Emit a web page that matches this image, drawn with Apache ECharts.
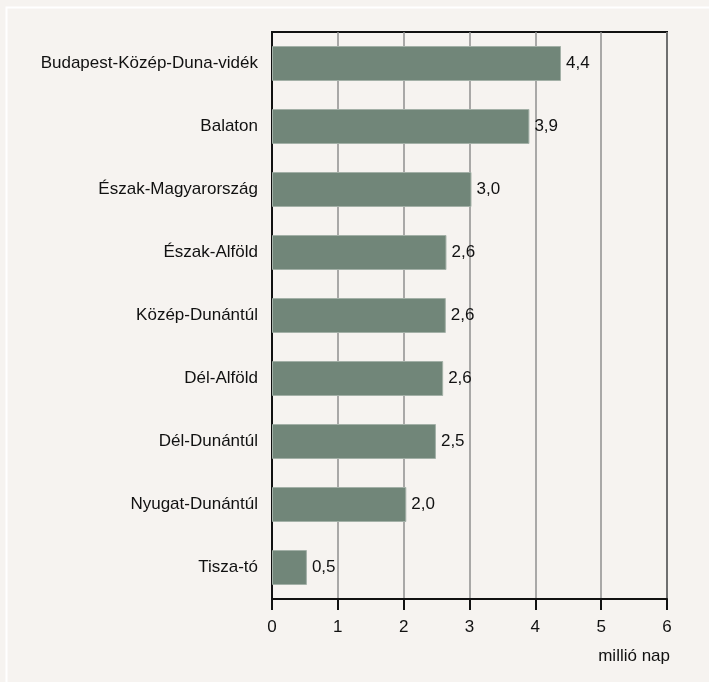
<!DOCTYPE html>
<html>
<head>
<meta charset="utf-8">
<script src="https://cdn.jsdelivr.net/npm/echarts@6/dist/echarts.min.js"></script>
<style>
html,body{margin:0;padding:0;background:#f6f3f0;}
#chart{width:709px;height:682px;}
</style>
</head>
<body>
<div id="chart"></div>
<script>
const categories = ['Budapest-Közép-Duna-vidék','Balaton','Észak-Magyarország','Észak-Alföld','Közép-Dunántúl','Dél-Alföld','Dél-Dunántúl','Nyugat-Dunántúl','Tisza-tó'];
const values = [4.39, 3.91, 3.03, 2.65, 2.64, 2.60, 2.49, 2.04, 0.53];
const labels = ['4,4','3,9','3,0','2,6','2,6','2,6','2,5','2,0','0,5'];
const xTicks = [0,1,2,3,4,5,6];
const unitName = 'millió nap';

const FONT = "'Liberation Sans Narrow','Arial Narrow','Liberation Sans',Arial,sans-serif";
const FS = 17;
const chart = echarts.init(document.getElementById('chart'));
chart.setOption({
  backgroundColor: '#f6f3f0',
  animation: false,
  graphic: [{
    type: 'rect',
    shape: {x: 6.5, y: 7.5, width: 720, height: 700},
    style: {fill: 'none', stroke: '#ffffff', lineWidth: 2},
    silent: true
  }],
  grid: {left: 272, right: 42, top: 32, bottom: 83, show: true, borderColor: '#111', borderWidth: 2, backgroundColor: 'transparent'},
  xAxis: {
    type: 'value', min: xTicks[0], max: xTicks[xTicks.length-1], interval: 1,
    name: unitName, nameLocation: 'end',
    nameGap: 3,
    nameTextStyle: {fontFamily: FONT, fontSize: FS, color: '#111', align: 'right', verticalAlign: 'top', padding: [49, 0, 0, 0]},
    axisLine: {show: true, lineStyle: {color: '#111', width: 2}},
    axisTick: {show: true, length: 11, inside: false, lineStyle: {color: '#111', width: 2}},
    axisLabel: {fontFamily: FONT, fontSize: FS, color: '#111', margin: 20, formatter: v => String(v)},
    splitLine: {show: true, lineStyle: {color: '#8f8f8f', width: 1.5}}
  },
  yAxis: {
    type: 'category', data: categories, inverse: true,
    axisLine: {show: true, lineStyle: {color: '#111', width: 2}},
    axisTick: {show: false},
    axisLabel: {fontFamily: FONT, fontSize: FS, color: '#111', margin: 14},
    splitLine: {show: false}
  },
  series: [{
    type: 'bar', data: values, barWidth: 35,
    itemStyle: {color: '#718679', borderColor: '#a3b0a7', borderWidth: 1},
    label: {show: true, position: 'right', distance: 5, fontFamily: FONT, fontSize: FS, color: '#111',
      formatter: p => labels[p.dataIndex]}
  }]
});
</script>
</body>
</html>
